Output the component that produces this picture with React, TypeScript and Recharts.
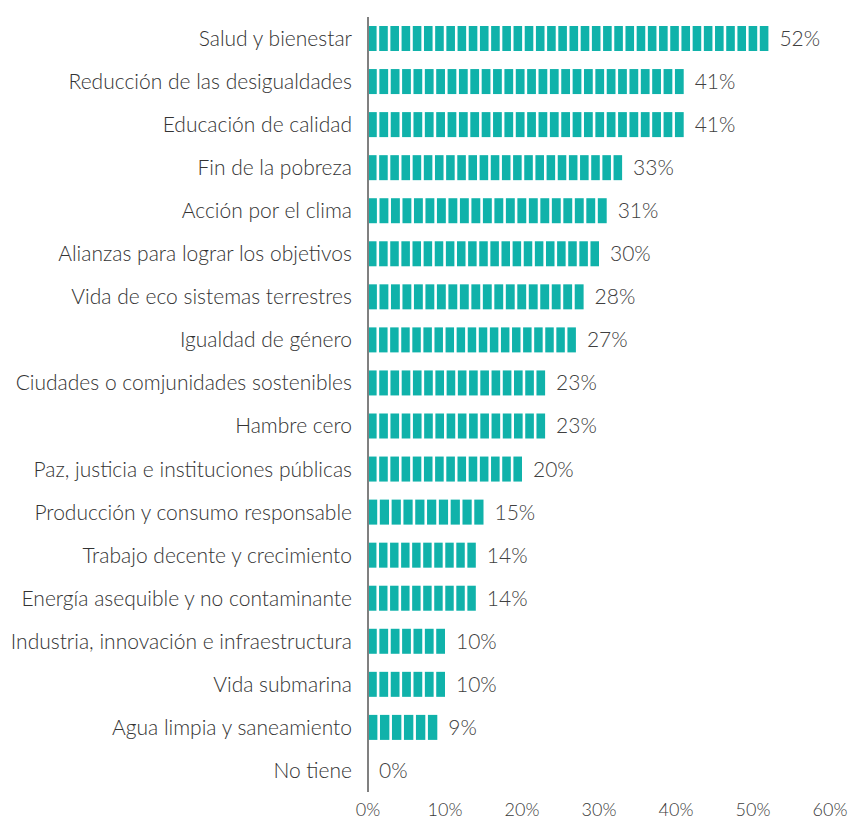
import React from 'react'
import { BarChart, Bar, XAxis, YAxis, LabelList } from 'recharts'

const categories = [
  'Salud y bienestar',
  'Reducción de las desigualdades',
  'Educación de calidad',
  'Fin de la pobreza',
  'Acción por el clima',
  'Alianzas para lograr los objetivos',
  'Vida de eco sistemas terrestres',
  'Igualdad de género',
  'Ciudades o comjunidades sostenibles',
  'Hambre cero',
  'Paz, justicia e instituciones públicas',
  'Producción y consumo responsable',
  'Trabajo decente y crecimiento',
  'Energía asequible y no contaminante',
  'Industria, innovación e infraestructura',
  'Vida submarina',
  'Agua limpia y saneamiento',
  'No tiene',
]

const values = [52, 41, 41, 33, 31, 30, 28, 27, 23, 23, 20, 15, 14, 14, 10, 10, 9, 0]

const xTicks = [0, 10, 20, 30, 40, 50, 60]

const data = categories.map((name, i) => ({ name, value: values[i] }))

const TEAL = '#10b2aa'
const FONT = 'Lato, "Open Sans", sans-serif'

// bar drawn as a row of small blocks, like the original pictogram bars
function SegmentedBar(props: any) {
  const { x, y, width, height } = props
  if (!width || width <= 0) return null
  const gap = 2.6
  const n = Math.max(1, Math.round((width + gap) / 11.3))
  const pitch = (width + gap) / n
  const rects = []
  for (let i = 0; i < n; i++) {
    rects.push(
      <rect key={i} x={x + i * pitch} y={y} width={pitch - gap} height={height} fill={TEAL} />
    )
  }
  return <g>{rects}</g>
}

export default function App() {
  return (
    <div style={{ width: 849, height: 824, background: '#fff' }}>
      <style>{'body{margin:0}'}</style>
      <BarChart
        width={849}
        height={824}
        data={data}
        layout="vertical"
        margin={{ top: 17, right: 19, bottom: 0, left: 0 }}
        barCategoryGap={18}
      >
        <XAxis
          type="number"
          domain={[0, 60]}
          ticks={xTicks}
          tickFormatter={(v) => `${v}%`}
          axisLine={false}
          tickLine={false}
          tickSize={0}
          tickMargin={11}
          height={32}
          interval={0}
          tick={{ fontSize: 18, fill: '#3a3a3a', fontFamily: FONT, fontWeight: 300 }}
        />
        <YAxis
          type="category"
          dataKey="name"
          width={368}
          interval={0}
          tickLine={false}
          tickSize={0}
          tickMargin={16}
          axisLine={{ stroke: '#808080', strokeWidth: 2 }}
          tick={{ fontSize: 21, fill: '#333333', fontFamily: FONT, fontWeight: 300 }}
        />
        <Bar dataKey="value" barSize={25} shape={SegmentedBar} isAnimationActive={false}>
          <LabelList
            dataKey="value"
            position="right"
            offset={11}
            formatter={(v: any) => `${v}%`}
            style={{ fontSize: 21, fill: '#404040', fontFamily: FONT, fontWeight: 300 }}
          />
        </Bar>
      </BarChart>
    </div>
  )
}
